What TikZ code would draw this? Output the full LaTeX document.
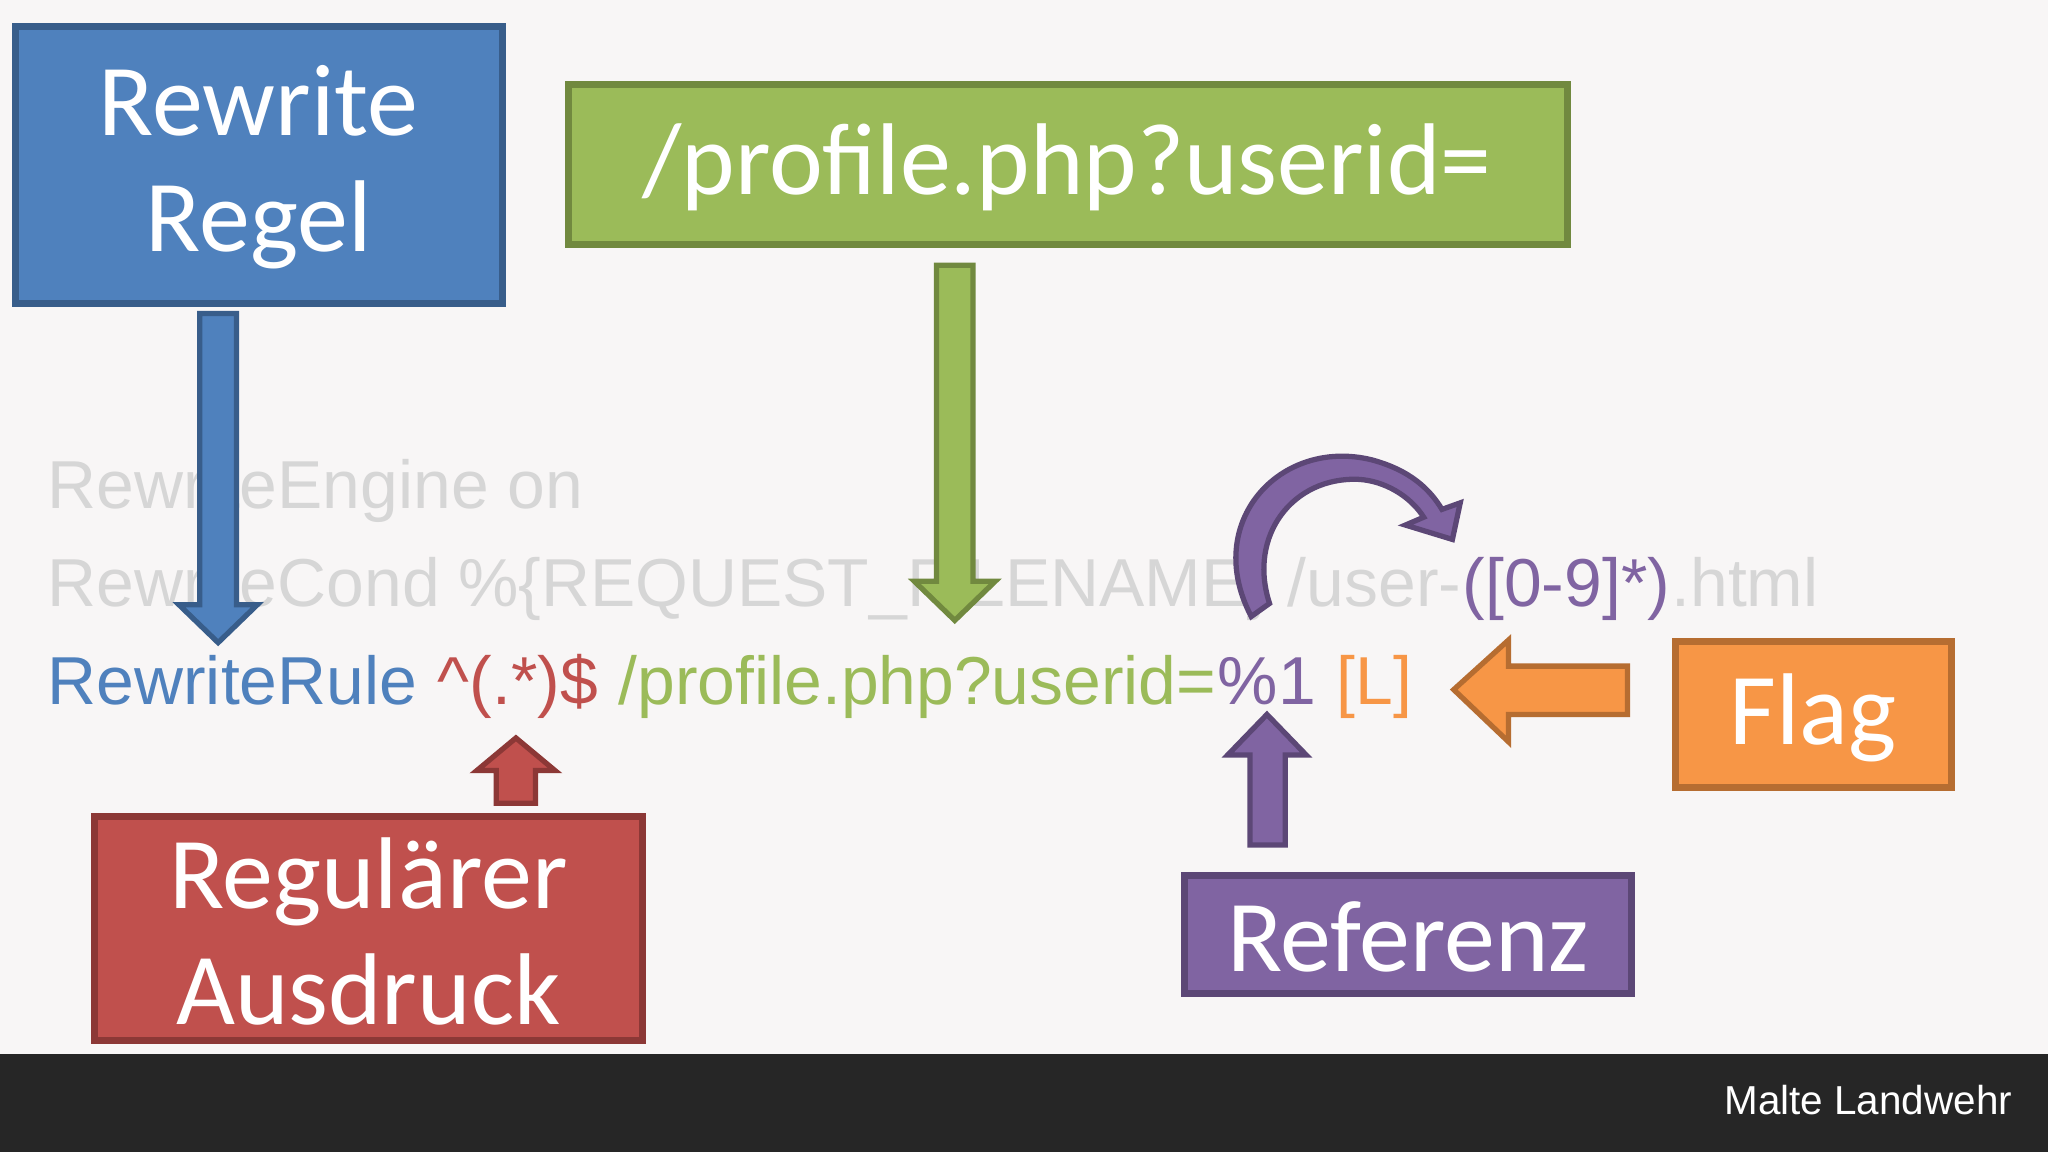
\documentclass[tikz,border=0pt]{standalone}
\usepackage{fontspec}
\setmainfont{Carlito}
\newfontfamily\codefont{Liberation Sans}
\usetikzlibrary{arrows.meta}
\definecolor{bgcol}{HTML}{F8F6F6}
\definecolor{barcol}{HTML}{262626}
\definecolor{bluef}{HTML}{4F81BD}\definecolor{blued}{HTML}{385D8A}
\definecolor{greenf}{HTML}{9BBB59}\definecolor{greend}{HTML}{71893F}
\definecolor{redf}{HTML}{C0504D}\definecolor{redd}{HTML}{8C3836}
\definecolor{purpf}{HTML}{8064A2}\definecolor{purpd}{HTML}{5C4776}
\definecolor{orangef}{HTML}{F79646}\definecolor{oranged}{HTML}{B66D31}
\definecolor{codegray}{HTML}{D6D6D6}
\tikzset{
  box/.style n args={2}{fill=#1, draw=#2, line width=2pt},
  boxtext/.style={text=white, font=\fontsize{29}{35}\selectfont, align=center},
  code/.style={anchor=base west, inner sep=0pt, font=\codefont\fontsize{19.3}{24}\selectfont},
  arr/.style n args={2}{fill=#1, draw=#2, line width=1.5pt, line join=miter}
}
\begin{document}
\begin{tikzpicture}[x=0.01306cm, y=-0.01306cm]
\useasboundingbox (0,0) rectangle (1568,882);
\fill[bgcol] (0,0) rectangle (1568,882);
\fill[barcol] (0,807) rectangle (1568,882);
\node[anchor=east, text=white, font=\codefont\fontsize{11.5}{14}\selectfont] (author) at (1550,842) {Malte Landwehr};
% code lines
\node[code, text=codegray] (l1) at (36,389) {RewriteEngine on};
\node[code, text=codegray] (l2a) at (36,464) {RewriteCond \%\{REQUEST\_FILENAME\} /user-};
\node[code, text=purpf] (l2b) at (l2a.base east) {([0-9]*)};
\node[code, text=codegray] (l2c) at (l2b.base east) {.html};
\node[code, text=bluef] (l3a) at (36,539) {RewriteRule};
\node[code, text=redf] (l3b) at ([xshift=5.5pt]l3a.base east) {\textasciicircum(.*)\$};
\node[code, text=greenf] (l3c) at ([xshift=5.5pt]l3b.base east) {/profile.php?userid=};
\node[code, text=purpf] (l3d) at (l3c.base east) {\%1};
\node[code, text=orangef] (l3e) at ([xshift=5.5pt]l3d.base east) {[L]};
% boxes
\draw[box={bluef}{blued}] (12,20) rectangle (385,232);
\node[boxtext] (regel) at (198,128) {Rewrite\\[-2pt]Regel};
\draw[box={greenf}{greend}] (435,65) rectangle (1200,187);
\node[boxtext] (ziel) at (817,128) {/profile.php?userid=};
\draw[box={redf}{redd}] (72,625) rectangle (492,797);
\node[boxtext] (regex) at (282,713) {Regulärer\\[-2pt]Ausdruck};
\draw[box={purpf}{purpd}] (907,670) rectangle (1249,761);
\node[boxtext] (ref) at (1078,717) {Referenz};
\draw[box={orangef}{oranged}] (1283,491) rectangle (1494,603);
\node[boxtext] (flag) at (1388,550) {Flag};
% arrows
\draw[arr={bluef}{blued}] (153,240) -- (181,240) -- (181,463) -- (197,463) -- (167,492) -- (137,463) -- (153,463) -- cycle;
\draw[arr={greenf}{greend}] (717,203) -- (745,203) -- (745,445) -- (762,445) -- (731,475) -- (700,445) -- (717,445) -- cycle;
\draw[arr={redf}{redd}] (380,615) -- (410,615) -- (410,590) -- (425,590) -- (395,565) -- (365,590) -- (380,590) -- cycle;
\draw[arr={purpf}{purpd}] (957,647) -- (984,647) -- (984,578) -- (1000,578) -- (970,547) -- (940,578) -- (957,578) -- cycle;
\draw[arr={orangef}{oranged}] (1246,510) -- (1246,547) -- (1155,547) -- (1155,568) -- (1113,528) -- (1155,490) -- (1155,510) -- cycle;
\draw[arr={purpf}{purpd}] (958,472) .. controls (920,400) and (980,335) .. (1050,352) .. controls (1080,360) and (1095,375) .. (1104,390)
  -- (1118,385) -- (1112,413) -- (1076,402) -- (1090,396)
  .. controls (1080,380) and (1060,368) .. (1040,367) .. controls (990,365) and (955,410) .. (972,462) -- cycle;
\end{tikzpicture}
\end{document}
